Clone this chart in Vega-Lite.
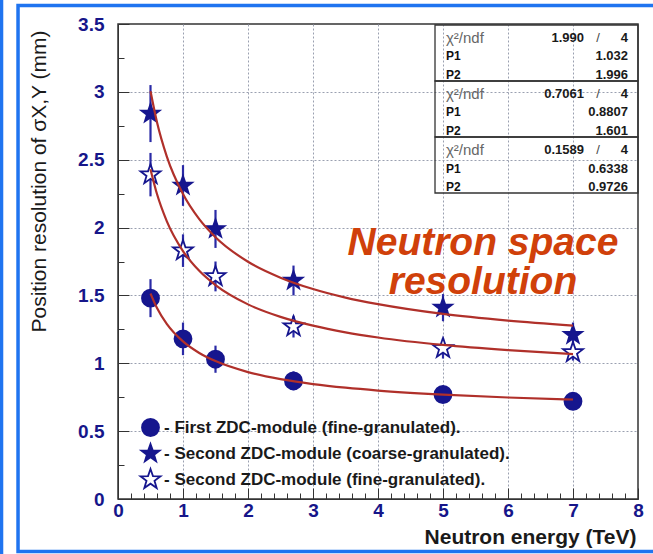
{
  "$schema": "https://vega.github.io/schema/vega-lite/v6.json",
  "width": 520,
  "height": 475,
  "autosize": "none",
  "padding": {"left": 118, "top": 24, "right": 15, "bottom": 55},
  "background": "white",
  "config": {
    "font": "Liberation Sans",
    "view": {"stroke": "#333333", "strokeWidth": 1.5},
    "axis": {
      "labelFont": "Liberation Sans",
      "labelFontWeight": "bold",
      "labelFontSize": 19,
      "labelColor": "#16168a",
      "titleFont": "Liberation Sans",
      "titleColor": "#1a1a1a",
      "domainColor": "#333333",
      "tickColor": "#333333",
      "gridColor": "#9aa0b0",
      "gridDash": [2, 2],
      "gridWidth": 1
    }
  },
  "datasets": {
    "points": [
      {"series": "- First ZDC-module (fine-granulated).", "E": 0.5, "sigma": 1.48, "err": 0.14},
      {"series": "- First ZDC-module (fine-granulated).", "E": 1.0, "sigma": 1.18, "err": 0.12},
      {"series": "- First ZDC-module (fine-granulated).", "E": 1.5, "sigma": 1.03, "err": 0.10},
      {"series": "- First ZDC-module (fine-granulated).", "E": 2.7, "sigma": 0.87, "err": 0.07},
      {"series": "- First ZDC-module (fine-granulated).", "E": 5.0, "sigma": 0.77, "err": 0.05},
      {"series": "- First ZDC-module (fine-granulated).", "E": 7.0, "sigma": 0.72, "err": 0.04},
      {"series": "- Second ZDC-module (coarse-granulated).", "E": 0.5, "sigma": 2.84, "err": 0.21},
      {"series": "- Second ZDC-module (coarse-granulated).", "E": 1.0, "sigma": 2.31, "err": 0.15},
      {"series": "- Second ZDC-module (coarse-granulated).", "E": 1.5, "sigma": 1.99, "err": 0.14},
      {"series": "- Second ZDC-module (coarse-granulated).", "E": 2.7, "sigma": 1.61, "err": 0.11},
      {"series": "- Second ZDC-module (coarse-granulated).", "E": 5.0, "sigma": 1.41, "err": 0.10},
      {"series": "- Second ZDC-module (coarse-granulated).", "E": 7.0, "sigma": 1.21, "err": 0.09},
      {"series": "- Second ZDC-module (fine-granulated).", "E": 0.5, "sigma": 2.39, "err": 0.16},
      {"series": "- Second ZDC-module (fine-granulated).", "E": 1.0, "sigma": 1.83, "err": 0.12},
      {"series": "- Second ZDC-module (fine-granulated).", "E": 1.5, "sigma": 1.64, "err": 0.11},
      {"series": "- Second ZDC-module (fine-granulated).", "E": 2.7, "sigma": 1.27, "err": 0.08},
      {"series": "- Second ZDC-module (fine-granulated).", "E": 5.0, "sigma": 1.11, "err": 0.075},
      {"series": "- Second ZDC-module (fine-granulated).", "E": 7.0, "sigma": 1.08, "err": 0.06}
    ],
    "fits": [
      {"fit": "coarse", "E": 0.5, "sigma": 3.005}, {"fit": "coarse", "E": 0.6, "sigma": 2.776},
      {"fit": "coarse", "E": 0.75, "sigma": 2.525}, {"fit": "coarse", "E": 1.0, "sigma": 2.247},
      {"fit": "coarse", "E": 1.25, "sigma": 2.062}, {"fit": "coarse", "E": 1.5, "sigma": 1.929},
      {"fit": "coarse", "E": 2.0, "sigma": 1.748}, {"fit": "coarse", "E": 2.5, "sigma": 1.631},
      {"fit": "coarse", "E": 3.0, "sigma": 1.547}, {"fit": "coarse", "E": 3.5, "sigma": 1.484},
      {"fit": "coarse", "E": 4.0, "sigma": 1.436}, {"fit": "coarse", "E": 5.0, "sigma": 1.364},
      {"fit": "coarse", "E": 6.0, "sigma": 1.315}, {"fit": "coarse", "E": 7.0, "sigma": 1.278},
      {"fit": "fine2", "E": 0.5, "sigma": 2.429}, {"fit": "fine2", "E": 0.6, "sigma": 2.247},
      {"fit": "fine2", "E": 0.75, "sigma": 2.048}, {"fit": "fine2", "E": 1.0, "sigma": 1.827},
      {"fit": "fine2", "E": 1.25, "sigma": 1.681}, {"fit": "fine2", "E": 1.5, "sigma": 1.576},
      {"fit": "fine2", "E": 2.0, "sigma": 1.434}, {"fit": "fine2", "E": 2.5, "sigma": 1.342},
      {"fit": "fine2", "E": 3.0, "sigma": 1.277}, {"fit": "fine2", "E": 3.5, "sigma": 1.228},
      {"fit": "fine2", "E": 4.0, "sigma": 1.190}, {"fit": "fine2", "E": 5.0, "sigma": 1.135},
      {"fit": "fine2", "E": 6.0, "sigma": 1.097}, {"fit": "fine2", "E": 7.0, "sigma": 1.068},
      {"fit": "fine1", "E": 0.5, "sigma": 1.514}, {"fit": "fine1", "E": 0.6, "sigma": 1.407},
      {"fit": "fine1", "E": 0.75, "sigma": 1.290}, {"fit": "fine1", "E": 1.0, "sigma": 1.161},
      {"fit": "fine1", "E": 1.25, "sigma": 1.076}, {"fit": "fine1", "E": 1.5, "sigma": 1.016},
      {"fit": "fine1", "E": 2.0, "sigma": 0.935}, {"fit": "fine1", "E": 2.5, "sigma": 0.883},
      {"fit": "fine1", "E": 3.0, "sigma": 0.847}, {"fit": "fine1", "E": 3.5, "sigma": 0.820},
      {"fit": "fine1", "E": 4.0, "sigma": 0.799}, {"fit": "fine1", "E": 5.0, "sigma": 0.769},
      {"fit": "fine1", "E": 6.0, "sigma": 0.748}, {"fit": "fine1", "E": 7.0, "sigma": 0.733}
    ],
    "stats": [
      {"line": 0, "label": "χ²/ndf", "kind": "chi", "num": "1.990", "ndf": "4"},
      {"line": 1, "label": "P1", "kind": "par", "num": "1.032"},
      {"line": 2, "label": "P2", "kind": "par", "num": "1.996"},
      {"line": 3, "label": "χ²/ndf", "kind": "chi", "num": "0.7061", "ndf": "4"},
      {"line": 4, "label": "P1", "kind": "par", "num": "0.8807"},
      {"line": 5, "label": "P2", "kind": "par", "num": "1.601"},
      {"line": 6, "label": "χ²/ndf", "kind": "chi", "num": "0.1589", "ndf": "4"},
      {"line": 7, "label": "P1", "kind": "par", "num": "0.6338"},
      {"line": 8, "label": "P2", "kind": "par", "num": "0.9726"}
    ],
    "boxes": [
      {"box": 1, "first": 0, "last": 2},
      {"box": 2, "first": 3, "last": 5},
      {"box": 3, "first": 6, "last": 8}
    ]
  },
  "encoding": {
    "x": {
      "type": "quantitative",
      "scale": {"domain": [0, 8], "nice": false, "zero": false},
      "axis": {
        "values": [0, 0.2, 0.4, 0.6, 0.8, 1, 1.2, 1.4, 1.6, 1.8, 2, 2.2, 2.4, 2.6, 2.8, 3, 3.2, 3.4, 3.6, 3.8, 4, 4.2, 4.4, 4.6, 4.8, 5, 5.2, 5.4, 5.6, 5.8, 6, 6.2, 6.4, 6.6, 6.8, 7, 7.2, 7.4, 7.6, 7.8, 8],
        "format": ".1~f",
        "labelExpr": "datum.value % 1 === 0 ? datum.label : ''",
        "grid": true,
        "gridOpacity": {"condition": {"test": "datum.value % 1 === 0 && datum.value > 0 && datum.value < 8", "value": 1}, "value": 0},
        "tickSize": {"condition": {"test": "datum.value % 1 === 0", "value": -11}, "value": -6},
        "labelPadding": 13,
        "labelBaseline": "top",
        "labelFlush": false,
        "labelOverlap": false,
        "title": "Neutron energy (TeV)",
        "titleFontSize": 21,
        "titleFontWeight": "bold",
        "titleAnchor": "end",
        "titleAlign": "right",
        "titleBaseline": "middle",
        "titleX": 518,
        "titleY": 38
      }
    },
    "y": {
      "type": "quantitative",
      "scale": {"domain": [0, 3.5], "nice": false, "zero": false},
      "axis": {
        "values": [0, 0.25, 0.5, 0.75, 1, 1.25, 1.5, 1.75, 2, 2.25, 2.5, 2.75, 3, 3.25, 3.5],
        "format": ".1~f",
        "labelExpr": "datum.value % 0.5 === 0 ? datum.label : ''",
        "grid": true,
        "gridOpacity": {"condition": {"test": "datum.value % 0.5 === 0 && datum.value > 0 && datum.value < 3.5", "value": 1}, "value": 0},
        "tickSize": {"condition": {"test": "datum.value % 0.5 === 0", "value": -11}, "value": -6},
        "labelPadding": 25,
        "labelFlush": false,
        "labelOverlap": false,
        "title": "Position resolution of σX,Y (mm)",
        "titleFontSize": 21,
        "titleFontWeight": "normal",
        "titleAngle": 270,
        "titleAnchor": "end",
        "titleAlign": "right",
        "titleBaseline": "middle",
        "titleX": -79,
        "titleY": 6
      }
    }
  },
  "layer": [
    {
      "data": {"values": [{}]},
      "mark": {"type": "rect", "fill": "white", "fillOpacity": 0, "stroke": "#1f74f0", "strokeWidth": 3.5, "clip": false},
      "encoding": {
        "x": {"datum": -1.538},
        "x2": {"datum": 8.6},
        "y": {"datum": 3.636},
        "y2": {"datum": -0.387}
      }
    },
    {
      "data": {"values": [{}]},
      "mark": {"type": "rule", "stroke": "#1f74f0", "strokeWidth": 3.5, "clip": false},
      "encoding": {
        "x": {"datum": -1.792},
        "y": {"datum": 3.9},
        "y2": {"datum": -0.6}
      }
    },
    {
      "data": {"name": "points"},
      "transform": [
        {"calculate": "datum.sigma - datum.err", "as": "lo"},
        {"calculate": "datum.sigma + datum.err", "as": "hi"}
      ],
      "mark": {"type": "rule", "stroke": "#2a2aa6", "strokeWidth": 2.2},
      "encoding": {
        "x": {"field": "E"},
        "y": {"field": "lo"},
        "y2": {"field": "hi"}
      }
    },
    {
      "data": {"name": "points"},
      "mark": {"type": "point", "stroke": "#16168e", "strokeWidth": 1.8, "opacity": 1},
      "encoding": {
        "x": {"field": "E"},
        "y": {"field": "sigma"},
        "shape": {
          "field": "series", "type": "nominal",
          "scale": {
            "domain": ["- First ZDC-module (fine-granulated).", "- Second ZDC-module (coarse-granulated).", "- Second ZDC-module (fine-granulated)."],
            "range": ["circle", "M0,-1L0.2351,-0.3236L0.9511,-0.309L0.3804,0.1236L0.5878,0.809L0,0.4L-0.5878,0.809L-0.3804,0.1236L-0.9511,-0.309L-0.2351,-0.3236Z", "M0,-1L0.2351,-0.3236L0.9511,-0.309L0.3804,0.1236L0.5878,0.809L0,0.4L-0.5878,0.809L-0.3804,0.1236L-0.9511,-0.309L-0.2351,-0.3236Z"]
          },
          "legend": {
            "title": null,
            "orient": "none",
            "legendX": 21,
            "legendY": 394,
            "padding": 0,
            "labelFont": "Liberation Sans",
            "labelFontWeight": "bold",
            "labelFontSize": 17,
            "labelColor": "#1a1a1a",
            "labelOffset": 2,
            "labelLimit": 500,
            "rowPadding": 0,
            "symbolStrokeWidth": 1.8
          }
        },
        "fill": {
          "field": "series", "type": "nominal",
          "scale": {
            "domain": ["- First ZDC-module (fine-granulated).", "- Second ZDC-module (coarse-granulated).", "- Second ZDC-module (fine-granulated)."],
            "range": ["#16168e", "#16168e", "#ffffff"]
          },
          "legend": {
            "title": null,
            "orient": "none",
            "legendX": 21,
            "legendY": 394,
            "padding": 0,
            "labelFont": "Liberation Sans",
            "labelFontWeight": "bold",
            "labelFontSize": 17,
            "labelColor": "#1a1a1a",
            "labelOffset": 2,
            "labelLimit": 500,
            "rowPadding": 0,
            "symbolStrokeWidth": 1.8
          }
        },
        "size": {
          "field": "series", "type": "nominal",
          "scale": {
            "domain": ["- First ZDC-module (fine-granulated).", "- Second ZDC-module (coarse-granulated).", "- Second ZDC-module (fine-granulated)."],
            "range": [290, 440, 440]
          },
          "legend": {
            "title": null,
            "orient": "none",
            "legendX": 21,
            "legendY": 394,
            "padding": 0,
            "labelFont": "Liberation Sans",
            "labelFontWeight": "bold",
            "labelFontSize": 17,
            "labelColor": "#1a1a1a",
            "labelOffset": 2,
            "labelLimit": 500,
            "rowPadding": 0,
            "symbolStrokeWidth": 1.8
          }
        }
      }
    },
    {
      "data": {"name": "fits"},
      "mark": {"type": "line", "stroke": "#b0302a", "strokeWidth": 2.2, "interpolate": "monotone"},
      "encoding": {
        "x": {"field": "E"},
        "y": {"field": "sigma"},
        "detail": {"field": "fit", "type": "nominal"}
      }
    },
    {
      "data": {"values": [{}]},
      "mark": {
        "type": "text",
        "text": ["Neutron space", "resolution"],
        "font": "Liberation Sans",
        "fontSize": 39,
        "fontWeight": "bold",
        "fontStyle": "italic",
        "fill": "#d0400a",
        "align": "center",
        "baseline": "middle",
        "lineHeight": 39
      },
      "encoding": {
        "x": {"datum": 5.615},
        "y": {"datum": 1.886}
      }
    },
    {
      "data": {"name": "boxes"},
      "transform": [
        {"calculate": "3.424 - 0.13757 * datum.first", "as": "ytop"},
        {"calculate": "3.424 - 0.13757 * datum.last", "as": "ybot"}
      ],
      "mark": {"type": "rect", "fill": "white", "fillOpacity": 0, "stroke": "#333333", "strokeWidth": 1.3, "yOffset": -9.33, "y2Offset": 9.33},
      "encoding": {
        "x": {"datum": 4.877},
        "x2": {"datum": 8},
        "y": {"field": "ytop"},
        "y2": {"field": "ybot"}
      }
    },
    {
      "data": {"name": "stats"},
      "transform": [
        {"filter": "datum.kind === 'chi'"},
        {"calculate": "3.424 - 0.13757 * datum.line", "as": "ypos"}
      ],
      "mark": {"type": "text", "align": "left", "baseline": "middle", "dy": 3.5, "font": "Liberation Sans", "fontSize": 15, "fill": "#666666"},
      "encoding": {
        "x": {"datum": 5.046},
        "y": {"field": "ypos"},
        "text": {"field": "label"}
      }
    },
    {
      "data": {"name": "stats"},
      "transform": [
        {"filter": "datum.kind === 'par'"},
        {"calculate": "3.424 - 0.13757 * datum.line", "as": "ypos"}
      ],
      "mark": {"type": "text", "align": "left", "baseline": "middle", "dy": 3.5, "font": "Liberation Sans", "fontSize": 12, "fontWeight": "bold", "fill": "#111111"},
      "encoding": {
        "x": {"datum": 5.046},
        "y": {"field": "ypos"},
        "text": {"field": "label"}
      }
    },
    {
      "data": {"name": "stats"},
      "transform": [
        {"filter": "datum.kind === 'chi'"},
        {"calculate": "3.424 - 0.13757 * datum.line", "as": "ypos"}
      ],
      "mark": {"type": "text", "align": "right", "baseline": "middle", "dy": 3.5, "font": "Liberation Sans", "fontSize": 13, "fontWeight": "bold", "fill": "#1a1a1a"},
      "encoding": {
        "x": {"datum": 7.169},
        "y": {"field": "ypos"},
        "text": {"field": "num"}
      }
    },
    {
      "data": {"name": "stats"},
      "transform": [
        {"filter": "datum.kind === 'chi'"},
        {"calculate": "3.424 - 0.13757 * datum.line", "as": "ypos"}
      ],
      "mark": {"type": "text", "align": "center", "baseline": "middle", "dy": 3.5, "font": "Liberation Sans", "fontSize": 13, "fill": "#444444", "text": "/"},
      "encoding": {
        "x": {"datum": 7.385},
        "y": {"field": "ypos"}
      }
    },
    {
      "data": {"name": "stats"},
      "transform": [
        {"calculate": "3.424 - 0.13757 * datum.line", "as": "ypos"},
        {"calculate": "datum.kind === 'chi' ? datum.ndf : datum.num", "as": "shown"}
      ],
      "mark": {"type": "text", "align": "right", "baseline": "middle", "dy": 3.5, "font": "Liberation Sans", "fontSize": 13, "fontWeight": "bold", "fill": "#1a1a1a"},
      "encoding": {
        "x": {"datum": 7.846},
        "y": {"field": "ypos"},
        "text": {"field": "shown"}
      }
    }
  ]
}
